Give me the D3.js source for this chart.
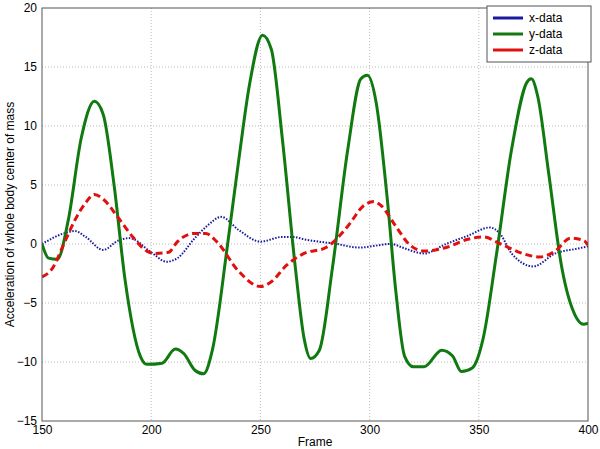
<!DOCTYPE html>
<html><head><meta charset="utf-8">
<script src="https://cdn.jsdelivr.net/npm/d3@7"></script>
<style>
body{margin:0;background:#fff;}
text{font-family:"Liberation Sans",Arial,sans-serif;}
</style></head><body>
<div id="chart"></div>
<script>
let xFrames = [150,160,165,170,178,185,190,200,207,212,220,226,232,240,250,260,265,270,285,295,310,315,325,335,345,355,360,365,375,385,395,400];
let xVals   = [0,0.9,1.1,0.6,-0.5,0.3,0.5,-0.7,-1.5,-1.2,0.5,1.6,2.3,1.2,0.2,0.6,0.6,0.4,0,-0.3,0,-0.3,-0.8,0,0.7,1.4,0.8,-0.8,-1.9,-0.8,-0.4,-0.2];

let yFrames = [150,153,157,162,168,174,178,183,188,195,198,205,211,215,220,224,228,235,240,245,251,255,260,266,270,273,277,283,290,296,299,303,308,312,316,320,325,333,338,342,347,352,358,365,372,374,377,382,388,394,398,400];
let yVals   = [0,-1.2,-1.3,2,9,12.1,11,5,-3,-9.5,-10.2,-10.1,-8.9,-9.3,-10.7,-11,-9,0,7,13.5,17.7,16.5,9,-2,-8,-9.7,-9,-2,8,14,14.3,12,4,-4,-9.5,-10.4,-10.4,-9,-9.5,-10.8,-10.5,-8,-1,8,13.7,14,12.5,6,-2,-6,-6.8,-6.7];

let zFrames = [150,155,160,165,170,174,178,185,192,198,202,208,212,220,225,230,240,250,255,262,270,280,290,297,302,305,312,318,325,335,345,352,360,370,378,385,392,398,400];
let zVals   = [-2.8,-2,0,2,3.5,4.2,3.8,2.2,0.5,-0.6,-0.8,-0.7,0.2,0.9,0.9,0.2,-2.3,-3.6,-3.2,-1.8,-0.8,-0.3,1.5,3.2,3.6,3.3,1.5,0,-0.6,-0.3,0.4,0.6,0,-0.8,-1.1,-0.6,0.5,0.3,-0.1];

let seriesNames = ["x-data","y-data","z-data"];
let xTicks = [150,200,250,300,350,400];
let yTicks = [-15,-10,-5,0,5,10,15,20];

let w = 600, h = 449;
let mLeft = 42, mRight = 588, mTop = 8, mBottom = 421;

let svg = d3.select("#chart").append("svg").attr("width", w).attr("height", h);

let x = d3.scaleLinear().domain([150, 400]).range([mLeft, mRight]);
let y = d3.scaleLinear().domain([-15, 20]).range([mBottom, mTop]);

// grid
svg.append("g").selectAll("line").data(xTicks.slice(1, -1)).enter().append("line")
    .attr("x1", d => x(d)).attr("x2", d => x(d)).attr("y1", mTop).attr("y2", mBottom)
    .attr("stroke", "#aaa").attr("stroke-width", 0.8).attr("stroke-dasharray", "1,2");
svg.append("g").selectAll("line").data(yTicks.slice(1, -1)).enter().append("line")
    .attr("y1", d => y(d)).attr("y2", d => y(d)).attr("x1", mLeft).attr("x2", mRight)
    .attr("stroke", "#aaa").attr("stroke-width", 0.8).attr("stroke-dasharray", "1,2");

let line = d3.line().x(d => x(d[0])).y(d => y(d[1])).curve(d3.curveMonotoneX);

let series = [
    {data: d3.zip(xFrames, xVals), color: "#1a1aa0", width: 2, dash: "1.5,1.5"},
    {data: d3.zip(yFrames, yVals), color: "#107a10", width: 3, dash: null},
    {data: d3.zip(zFrames, zVals), color: "#e0100e", width: 3, dash: "7,4"}
];

svg.append("clipPath").attr("id", "c").append("rect")
    .attr("x", mLeft).attr("y", mTop).attr("width", mRight - mLeft).attr("height", mBottom - mTop);

series.forEach(s => {
    svg.append("path").attr("d", line(s.data)).attr("fill", "none")
        .attr("clip-path", "url(#c)")
        .attr("stroke", s.color).attr("stroke-width", s.width)
        .attr("stroke-dasharray", s.dash);
});

// box and axes
svg.append("rect").attr("x", mLeft).attr("y", mTop).attr("width", mRight - mLeft).attr("height", mBottom - mTop)
    .attr("fill", "none").attr("stroke", "#555");

svg.append("g").attr("transform", "translate(0," + mBottom + ")")
    .call(d3.axisBottom(x).tickValues(xTicks).tickSize(0).tickPadding(4))
    .call(g => g.select(".domain").remove())
    .selectAll("text").attr("font-size", 12).attr("fill", "#000");
svg.append("g").attr("transform", "translate(" + mLeft + ",0)")
    .call(d3.axisLeft(y).tickValues(yTicks).tickSize(0).tickPadding(5))
    .call(g => g.select(".domain").remove())
    .selectAll("text").attr("font-size", 12).attr("fill", "#000");

svg.append("text").attr("x", (mLeft + mRight) / 2).attr("y", 446).attr("text-anchor", "middle")
    .attr("font-size", 12).text("Frame");
svg.append("text").attr("transform", "translate(14," + ((mTop + mBottom) / 2) + ") rotate(-90)")
    .attr("text-anchor", "middle").attr("font-size", 12).text("Acceleration of whole body center of mass");

// legend
let lg = svg.append("g").attr("transform", "translate(487,6)");
lg.append("rect").attr("width", 104).attr("height", 56).attr("fill", "#fff").attr("stroke", "#555");
let legendColors = ["#1a1aa0", "#107a10", "#e0100e"];
seriesNames.forEach((n, i) => {
    lg.append("line").attr("x1", 6).attr("x2", 36).attr("y1", 12 + i * 16).attr("y2", 12 + i * 16)
        .attr("stroke", legendColors[i]).attr("stroke-width", 3);
    lg.append("text").attr("x", 42).attr("y", 16 + i * 16).attr("font-size", 12).text(n);
});
</script>
</body></html>
